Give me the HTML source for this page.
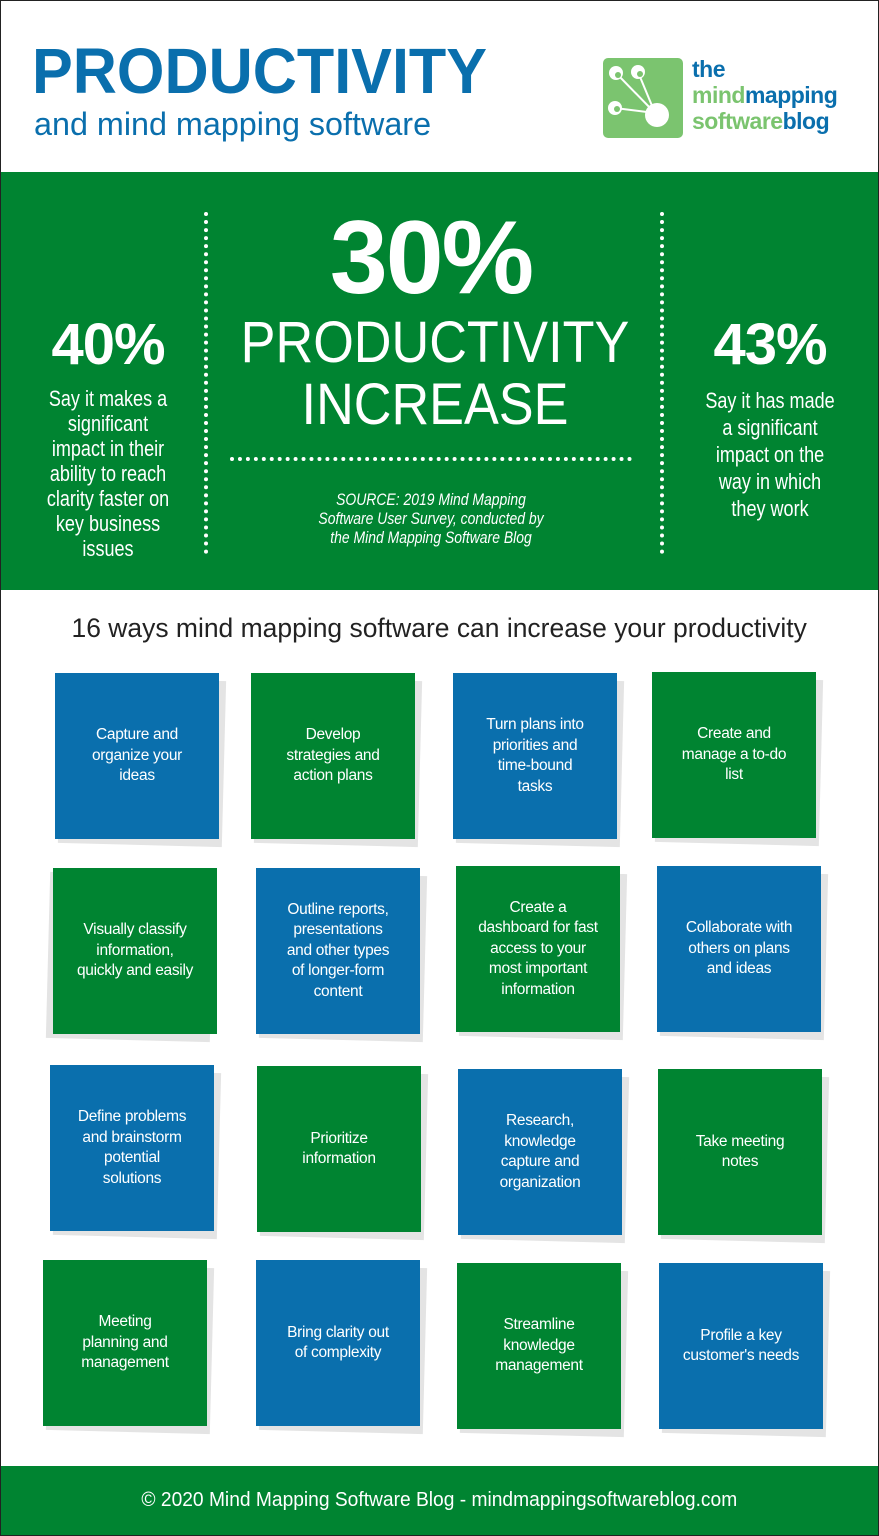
<!DOCTYPE html>
<html><head><meta charset="utf-8"><style>
*{margin:0;padding:0;box-sizing:border-box}
body{width:879px;height:1536px;position:relative;background:#fff;font-family:"Liberation Sans",sans-serif;overflow:hidden}
.frame{position:absolute;inset:0;border:1px solid #222;z-index:10;pointer-events:none}
.a{position:absolute}
.c{position:absolute;text-align:center;color:#fff;white-space:nowrap}
.n{transform:scaleX(.82);transform-origin:center}
.card{position:absolute;width:164px;height:166px;display:flex;align-items:center;justify-content:center;text-align:center;color:#fff;font-size:15.5px;line-height:20.5px;white-space:nowrap;letter-spacing:-.3px}
.sh{position:absolute;width:164px;height:166px;background:#e4e4e4;transform:rotate(1.5deg)}
.b{background:#0a6fad}.g{background:#008431}
</style></head><body>
<div class="frame"></div>
<div class="a" style="left:32px;top:36px;font-size:64px;font-weight:bold;color:#0a6fad;line-height:70px;transform:scaleX(.955);transform-origin:left">PRODUCTIVITY</div>
<div class="a" style="left:34px;top:105px;font-size:32px;color:#0a6fad;line-height:38px;transform:scaleX(1.01);transform-origin:left">and mind mapping software</div>
<svg class="a" style="left:603px;top:58px" width="80" height="80" viewBox="0 0 80 80">
<rect width="80" height="80" rx="5" fill="#7bc46f"/>
<g stroke="#fff" stroke-width="2"><line x1="13" y1="15" x2="52" y2="55"/><line x1="35" y1="14" x2="52" y2="55"/><line x1="12" y1="50" x2="52" y2="55"/></g>
<circle cx="54" cy="57" r="12" fill="#fff"/><circle cx="13" cy="15" r="7" fill="#fff"/><circle cx="35" cy="14" r="7" fill="#fff"/><circle cx="12" cy="50" r="7" fill="#fff"/>
<circle cx="15" cy="17" r="3" fill="#7bc46f"/><circle cx="37" cy="16" r="3" fill="#7bc46f"/><circle cx="14" cy="51" r="3" fill="#7bc46f"/>
</svg>
<div class="a" style="left:692px;top:56px;font-size:23px;font-weight:bold;line-height:26px;color:#0a6fad;letter-spacing:-.5px">the<br><span style="color:#7bc46f">mind</span>mapping<br><span style="color:#7bc46f">software</span>blog</div>

<div class="a g" style="left:0;top:172px;width:879px;height:418px"></div>
<div class="a" style="left:204px;top:212px;height:342px;border-left:4px dotted #fff"></div>
<div class="a" style="left:660px;top:212px;height:342px;border-left:4px dotted #fff"></div>
<div class="a" style="left:230px;top:457px;width:402px;border-top:4px dotted #fff"></div>
<div class="c" style="left:230px;width:402px;top:198px;font-size:104px;font-weight:bold;line-height:120px;letter-spacing:-2px">30%</div>
<div class="c n" style="left:200px;width:470px;top:312px;font-size:58px;line-height:62px;transform:scaleX(.9)">PRODUCTIVITY<br>INCREASE</div>
<div class="c n" style="left:230px;width:402px;top:490px;font-size:17px;font-style:italic;line-height:19px">SOURCE: 2019 Mind Mapping<br>Software User Survey, conducted by<br>the Mind Mapping Software Blog</div>
<div class="c" style="left:10px;width:196px;top:312px;font-size:58px;font-weight:bold;line-height:66px;letter-spacing:-1px">40%</div>
<div class="c n" style="left:10px;width:196px;top:386px;font-size:22px;line-height:25px">Say it makes a<br>significant<br>impact in their<br>ability to reach<br>clarity faster on<br>key business<br>issues</div>
<div class="c" style="left:668px;width:204px;top:312px;font-size:58px;font-weight:bold;line-height:66px;letter-spacing:-1px">43%</div>
<div class="c n" style="left:668px;width:204px;top:387px;font-size:22px;line-height:27px">Say it has made<br>a significant<br>impact on the<br>way in which<br>they work</div>

<div class="c" style="left:0;width:879px;top:612px;font-size:27px;color:#222;line-height:32px"><span style="display:inline-block;transform:scaleX(.98)">16 ways mind mapping software can increase your productivity</span></div>

<div class="sh" style="left:60px;top:679px"></div><div class="card b" style="left:55px;top:673px"><div>Capture and<br>organize your<br>ideas</div></div>
<div class="sh" style="left:256px;top:679px"></div><div class="card g" style="left:251px;top:673px"><div>Develop<br>strategies and<br>action plans</div></div>
<div class="sh" style="left:458px;top:679px"></div><div class="card b" style="left:453px;top:673px"><div>Turn plans into<br>priorities and<br>time-bound<br>tasks</div></div>
<div class="sh" style="left:657px;top:678px"></div><div class="card g" style="left:652px;top:672px"><div>Create and<br>manage a to-do<br>list</div></div>

<div class="sh" style="left:48px;top:874px"></div><div class="card g" style="left:53px;top:868px"><div>Visually classify<br>information,<br>quickly and easily</div></div>
<div class="sh" style="left:261px;top:874px"></div><div class="card b" style="left:256px;top:868px"><div>Outline reports,<br>presentations<br>and other types<br>of longer-form<br>content</div></div>
<div class="sh" style="left:461px;top:872px"></div><div class="card g" style="left:456px;top:866px"><div>Create a<br>dashboard for fast<br>access to your<br>most important<br>information</div></div>
<div class="sh" style="left:662px;top:872px"></div><div class="card b" style="left:657px;top:866px"><div>Collaborate with<br>others on plans<br>and ideas</div></div>

<div class="sh" style="left:55px;top:1071px"></div><div class="card b" style="left:50px;top:1065px"><div>Define problems<br>and brainstorm<br>potential<br>solutions</div></div>
<div class="sh" style="left:262px;top:1072px"></div><div class="card g" style="left:257px;top:1066px"><div>Prioritize<br>information</div></div>
<div class="sh" style="left:463px;top:1075px"></div><div class="card b" style="left:458px;top:1069px"><div>Research,<br>knowledge<br>capture and<br>organization</div></div>
<div class="sh" style="left:663px;top:1075px"></div><div class="card g" style="left:658px;top:1069px"><div>Take meeting<br>notes</div></div>

<div class="sh" style="left:48px;top:1266px"></div><div class="card g" style="left:43px;top:1260px"><div>Meeting<br>planning and<br>management</div></div>
<div class="sh" style="left:261px;top:1266px"></div><div class="card b" style="left:256px;top:1260px"><div>Bring clarity out<br>of complexity</div></div>
<div class="sh" style="left:462px;top:1269px"></div><div class="card g" style="left:457px;top:1263px"><div>Streamline<br>knowledge<br>management</div></div>
<div class="sh" style="left:664px;top:1269px"></div><div class="card b" style="left:659px;top:1263px"><div>Profile a key<br>customer's needs</div></div>

<div class="a g" style="left:0;top:1466px;width:879px;height:70px"></div>
<div class="c" style="left:0;width:879px;top:1488px;font-size:20px;line-height:24px"><span style="display:inline-block;transform:scaleX(.96)">© 2020 Mind Mapping Software Blog - mindmappingsoftwareblog.com</span></div>
</body></html>
